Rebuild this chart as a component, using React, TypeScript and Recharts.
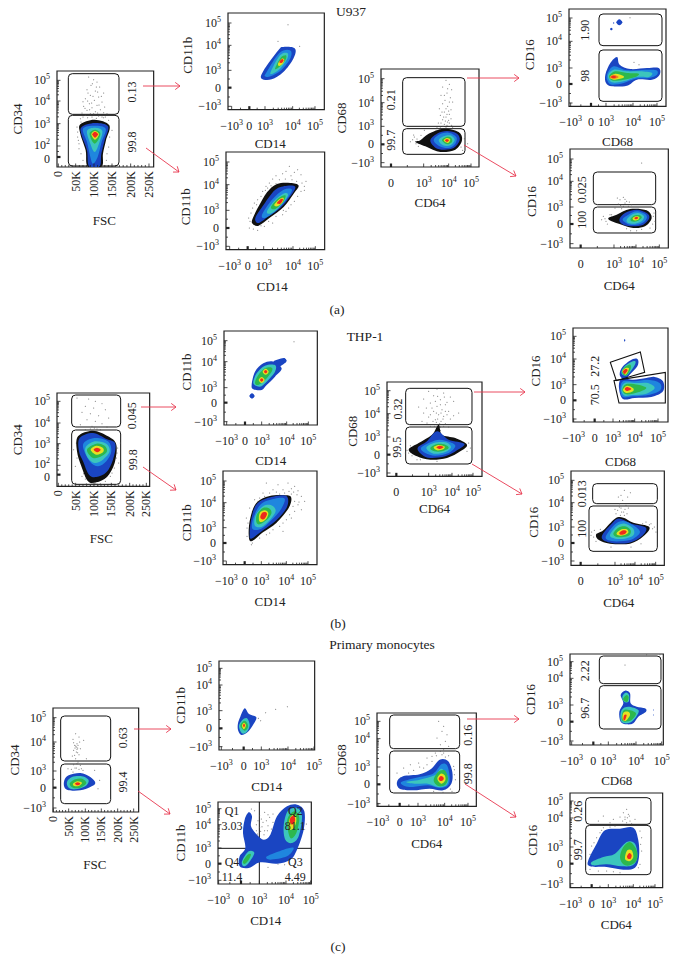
import React from 'react';
import { ScatterChart, Scatter, XAxis, YAxis, ReferenceArea, ReferenceLine } from 'recharts';

// Axis tick labels
const logX = ['−10^3', '0', '10^3', '10^4', '10^5'];
const logY = ['10^5', '10^4', '10^3', '0', '−10^3'];
const posX = ['0', '10^3', '10^4', '10^5'];
const fscX = ['0', '50K', '100K', '150K', '200K', '250K'];
const cd34Y = ['10^5', '10^4', '10^3', '10^2', '0'];

const COLORS: Record<string, string> = {
  k: '#101010', n: '#1a45c2', b: '#1f86de', c: '#3cc6bc', g: '#2db84d', y: '#e6e022', o: '#f08020', r: '#ee2a1c',
};

// All values are display channels of each plot's scale.
// U937
const a1Blobs: [string, number[]][] = [
  ['k', [113,142,157,125,147,80,138,40,134,2,92,2,86,50,70,100,70,128]],
  ['n', [113,132,153,122,143,80,133,40,128,2,96,2,90,50,74,95,74,120]],
  ['b', [113,124,146,115,134,75,122,30,108,10,100,30,90,75,78,115]],
  ['c', [113,118,136,108,126,70,113,45,100,70,90,108]],
  ['g', [114,112,130,102,123,80,113,70,104,80,98,102]],
  ['y', [114,108,126,98,114,82,103,98]],
  ['r', [114,106,123,98,114,88,106,98]],
];
const a1Dots = [95,270,110,262,120,255,102,245,128,240,90,232,115,228,140,222,100,215,125,210,85,205,112,200,135,195,97,190,120,185,80,182,105,178,130,172,90,170,115,166,75,162,140,163,60,120,62,90,66,70,72,40,78,20,150,160,165,110,155,60,148,20,85,155,125,153,100,160,70,145,155,140,
  106,250,118,240,93,222,108,212,122,225,133,212,78,196,92,198,104,192,126,186,143,180,84,176,98,172,110,160,122,162,135,150,145,150,72,135,62,105,66,55,150,40,158,90,78,150,92,148,105,150,118,146,140,148,64,80];
const a2Blobs: [string, number[]][] = [
  ['n', [106,116,151,178,166,188,201,183,196,153,166,113,131,91,101,93]],
  ['b', [116,113,154,170,186,178,188,156,161,120,128,100,111,100]],
  ['c', [128,113,156,163,178,170,178,153,156,123,134,108]],
  ['g', [141,123,158,156,174,163,172,148,154,128]],
  ['y', [150,138,161,153,169,150,164,138,154,131]],
  ['r', [154,143,162,152,167,148,161,140]],
];
const a2Dots = [180,255,150,205,215,190];
const a3Blobs: [string, number[]][] = [
  ['k', [83,100,98,130,123,172,153,197,193,200,218,192,203,168,173,128,133,97,98,72,78,80]],
  ['n', [88,95,113,135,148,180,183,192,208,188,193,160,163,125,128,100,98,80]],
  ['b', [108,105,138,150,173,180,198,180,181,150,148,115,118,95]],
  ['c', [123,115,148,150,178,170,185,160,158,125,133,108]],
  ['g', [135,128,158,155,178,163,173,145,148,122]],
  ['y', [145,135,161,152,173,155,168,140,153,130]],
  ['r', [153,140,165,152,171,150,163,138]],
];
const a3Dots = [190,250,205,232,225,225,215,240,170,228,150,222,130,200,110,175,95,150,80,125,68,95,70,65,95,58,115,70,140,80,170,105,195,135,215,160,235,190,180,235,195,222,120,190,85,140,240,205,
  140,212,160,210,178,212,198,210,212,205,228,200,135,192,150,198,118,178,125,185,105,160,92,135,75,110,72,85,82,62,105,72,128,85,150,100,180,115,205,145,225,175,235,178,188,125,172,118];
const a4Blobs: [string, number[]][] = [
  ['k', [118,80,143,100,188,115,233,105,243,80,223,52,178,45,138,60,103,75]],
  ['n', [148,80,168,100,198,108,228,100,236,80,218,57,188,52,163,58]],
  ['b', [158,80,176,98,203,103,226,90,223,70,203,57,176,62]],
  ['c', [173,80,188,92,208,95,221,82,208,65,186,65]],
  ['g', [183,80,196,90,210,88,213,75,198,68]],
  ['y', [188,80,198,87,208,82,200,72]],
  ['r', [192,80,198,84,204,80,198,75]],
];
const a4Dots = [195,260,205,248,185,240,212,232,198,222,180,215,208,208,192,200,215,195,185,190,200,182,175,175,210,172,190,165,205,158,178,155,195,150,210,145,185,142,200,135,172,132,190,128,208,122,178,120,195,118,215,118,100,90,105,70,95,82,112,62,120,95,130,110,250,85,260,70,245,50,
  200,235,190,215,205,195,195,175,203,168,183,165,198,158,188,150,203,140,193,138,180,132,198,125,186,122,205,132,168,118,212,125,88,76,98,96,108,84,240,60];
const a5Blobs: [string, number[]][] = [
  ['n', [151,261,160,252,151,243,142,252]],
  ['n', [127,236,131,232,127,228,123,232]],
  ['n', [134,252,136,250,134,248,132,250]],
  ['n', [109,95,124,130,144,148,152,125,184,112,234,115,269,115,272,95,249,80,204,80,174,62,129,60,111,70]],
  ['b', [114,95,134,120,174,108,229,110,262,108,264,95,239,85,199,83,164,70,129,65,116,75]],
  ['c', [117,92,134,110,174,105,214,105,249,100,239,88,204,88,164,75,129,72]],
  ['g', [120,90,139,105,174,100,209,98,199,88,164,80,132,77]],
  ['y', [122,88,139,98,162,92,162,85,134,80]],
  ['o', [122,88,134,95,149,88,134,82]],
  ['r', [125,88,134,92,142,88,134,85]],
];
const a5Dots = [183,266,210,125,195,132];
const a6Blobs: [string, number[]][] = [
  ['k', [115,90,140,100,180,117,230,113,245,90,225,65,190,60,155,70,125,80]],
  ['n', [148,85,165,105,200,115,230,105,238,90,220,70,190,65,160,70]],
  ['b', [158,85,175,100,200,110,228,100,228,85,210,72,180,70]],
  ['c', [170,85,185,100,205,105,222,95,215,80,195,73,175,75]],
  ['g', [182,88,195,98,210,98,215,90,200,80,185,80]],
  ['y', [188,90,198,95,208,93,205,85,192,83]],
  ['r', [193,90,200,94,205,90,198,86]],
];
const a6Dots = [150,145,160,152,170,140,145,132,175,125,135,120,155,118,185,130,215,255,100,95,108,80,95,85,250,95,255,80,240,60,170,58,200,52,125,100,165,135,
  142,150,152,128,165,146,160,125,178,138,112,72,120,100,105,88,248,72,252,105,182,52,215,56];

// THP-1
const b1Blobs: [string, number[]][] = [
  ['k', [63,150,108,167,153,150,178,125,173,70,150,28,118,12,93,15,73,60,60,105]],
  ['n', [68,145,108,160,148,142,175,128,168,80,148,42,118,28,96,35,78,75,66,105]],
  ['b', [78,125,113,145,153,135,163,105,148,75,123,60,98,75]],
  ['c', [85,115,113,135,148,128,158,105,138,80,113,70,93,85]],
  ['g', [90,110,118,128,143,122,150,105,133,90,108,85]],
  ['y', [101,110,118,122,138,115,138,102,118,95]],
  ['r', [110,110,120,116,131,110,121,102]],
];
const b1Dots = [60,265,95,262,115,255,135,248,85,240,110,235,145,230,75,222,100,218,125,212,155,205,90,200,115,195,135,188,70,185,105,180,150,178,120,172,85,170,180,100,185,70,165,40,55,60,58,130,100,3,130,8,145,15,75,30,
  100,6,110,4,120,7,125,3,105,9,115,10,135,5,88,8,85,22,80,38,160,30,172,55,178,85,182,115,60,85,62,145,50,110,100,172,112,175,130,170,190,130];
const b2Blobs: [string, number[]][] = [
  ['n', [84,95,92,87,84,79,76,87]],
  ['n', [180,201,188,193,180,185,172,193]],
  ['n', [148,190,178,200,186,190,163,175]],
  ['n', [83,120,93,160,118,185,148,190,173,170,153,145,128,120,113,105,88,107]],
  ['c', [88,125,98,155,123,178,153,180,153,160,128,130,108,115]],
  ['g', [93,127,103,150,123,170,143,172,143,160,123,135,103,120]],
  ['y', [125,169,134,160,125,151,116,160]],
  ['y', [113,144,122,135,113,126,104,135]],
  ['r', [125,165,130,160,125,155,120,160]],
  ['r', [113,140,118,135,113,130,108,135]],
];
const b2Dots = [210,250];
const b3Blobs: [string, number[]][] = [
  ['k', [77,93,82,140,100,185,140,206,190,208,205,200,197,170,160,125,120,97,85,70]],
  ['n', [80,93,85,138,102,183,145,203,190,206,192,173,160,133,120,103,85,78]],
  ['b', [88,108,92,143,115,183,155,198,185,198,175,168,145,133,115,108]],
  ['c', [95,118,98,148,120,175,145,178,158,161,140,133,115,113]],
  ['g', [100,128,102,151,120,170,140,168,145,153,130,133,110,121]],
  ['y', [108,133,110,155,125,163,136,155,130,138,115,128]],
  ['r', [112,141,117,155,127,158,132,151,123,136]],
];
const b3Dots = [130,245,165,240,195,245,215,235,150,225,180,225,225,222,235,205,120,215,205,228,170,212,110,200,225,180,215,160,235,165,190,135,205,140,170,115,140,95,110,80,85,60,72,110,70,140,80,170,95,195,180,100,245,190,
  185,215,198,220,212,218,222,210,205,212,160,218,140,215,125,205,105,190,88,160,75,125,72,85,88,65,215,190,228,188,210,175,200,150,180,125,150,105,130,90];
const b4Blobs: [string, number[]][] = [
  ['k', [65,80,95,100,135,125,155,155,165,125,205,115,240,95,220,75,180,55,130,50,90,60]],
  ['n', [92,85,120,105,150,135,185,110,232,98,210,78,175,60,130,55,105,65]],
  ['b', [102,85,130,102,158,110,190,102,205,90,185,70,145,62,115,70]],
  ['c', [118,85,140,100,175,102,192,88,175,73,140,68]],
  ['g', [130,85,150,97,175,95,185,85,165,75,142,75]],
  ['y', [140,87,155,94,172,90,170,82,150,78]],
  ['r', [148,87,158,92,170,88,158,82]],
];
const b4Dots = [150,262,125,255,170,250,140,242,190,238,110,232,160,230,200,225,130,220,175,215,150,210,95,208,165,200,185,195,140,195,215,190,155,185,170,180,125,178,190,172,145,170,162,165,105,165,175,158,150,155,160,148,130,150,185,148,150,140,60,78,70,92,245,100,250,85,75,62,150,45,100,50,
  152,240,145,225,118,205,172,238,180,222,160,215,135,205,175,195,148,190,162,190,130,185,180,185,152,172,168,172,138,165,120,160,158,158,170,150,148,162,142,150,160,138,200,182,110,190,55,70,65,70,240,75,90,50];
const b5Blobs: [string, number[]][] = [
  ['n', [155,249,157,245,155,241,153,245]],
  ['n', [140,142,150,167,180,189,195,187,193,167,170,142,155,127]],
  ['c', [145,147,155,167,180,182,188,179,180,162,160,139]],
  ['g', [147,149,155,164,172,172,172,157,158,139]],
  ['y', [148,152,158,162,168,160,158,142]],
  ['r', [150,152,158,159,164,155,155,144]],
  ['n', [138,102,145,129,180,127,220,132,245,135,270,122,270,92,235,75,185,72,150,69]],
  ['b', [142,97,150,122,185,122,225,127,260,117,262,95,230,82,180,77,150,75]],
  ['c', [145,97,155,117,190,117,225,117,245,102,220,85,180,81,155,79]],
  ['g', [148,97,160,114,195,112,220,102,195,89,160,83]],
  ['y', [150,97,162,109,180,102,180,92,160,87]],
  ['r', [155,99,162,105,175,99,162,93]],
];
const b5Gates: number[][] = [
  [112,179,202,210,215,149,130,124],
  [123,124,277,149,277,57,138,57],
];
const b6Blobs: [string, number[]][] = [
  ['k', [75,92,97,105,132,140,157,143,187,128,235,115,217,87,177,65,117,65,85,75]],
  ['n', [92,85,127,130,147,140,182,125,225,113,212,87,175,68,122,67]],
  ['b', [104,85,132,123,157,133,187,120,207,100,187,80,157,73,122,73]],
  ['c', [117,90,137,117,162,125,187,110,187,90,162,80,132,80]],
  ['g', [127,95,142,113,162,117,179,105,175,90,157,85,137,85]],
  ['y', [137,97,152,108,167,108,172,98,157,90,142,90]],
  ['r', [145,98,157,105,167,102,162,94,149,92]],
];
const b6Dots = [160,225,150,210,170,205,155,195,145,185,165,180,150,172,140,165,158,160,135,155,168,155,148,150,60,90,70,105,75,72,250,115,255,100,240,125,225,130,210,65,120,55,180,55,
  142,205,178,218,162,168,152,160,172,172,145,175,132,168,160,150,62,100,68,85,80,88,88,108,245,110,235,122,215,125];
const c1Blobs: [string, number[]][] = [
  ['n', [34,95,47,110,82,117,112,105,127,87,112,75,82,65,47,65,34,75]],
  ['c', [42,90,57,105,87,107,107,95,97,77,67,68,47,73]],
  ['g', [50,85,67,98,87,100,100,87,82,73,60,73]],
  ['y', [60,85,74,92,87,87,77,78,64,78]],
  ['r', [66,85,74,89,82,85,74,80]],
];
const c1Dots = [68,235,78,225,60,218,72,205,65,200,70,195,74,192,82,190,62,185,70,180,78,172,58,168,68,160,75,150,62,142,82,140,70,132,55,128,90,125,125,125,140,95,135,70,92,215,45,130,100,160,
  68,198,72,188,66,192,75,200,80,210,62,208,74,178,65,170,72,145,66,132,78,128,60,120,85,130];
const c2Blobs: [string, number[]][] = [
  ['n', [57,80,64,100,77,125,90,108,112,98,102,75,87,55,67,45,57,60]],
  ['c', [60,72,70,90,84,95,92,75,84,55,69,50]],
  ['g', [64,72,74,87,84,82,87,68,77,58]],
  ['y', [69,73,75,82,81,74,75,62]],
  ['r', [72,74,75,79,78,74,75,68]],
];
const c2Dots = [140,112,170,122,205,130,118,95,125,88];
const c3Blobs: [string, number[]][] = [
  ['n', [92,215,102,203,99,173,117,148,137,133,157,148,177,203,207,233,237,238,259,218,257,163,237,103,217,73,177,61,127,65,92,48,65,53,65,83,82,108,75,153,80,193]],
  ['b', [147,83,197,103,227,108,207,83,157,73]],
  ['c', [197,173,209,218,237,228,252,203,242,143,222,123,202,133]],
  ['g', [207,183,215,208,232,218,244,198,235,153,217,138]],
  ['y', [212,183,219,203,232,208,235,188,227,168,215,163]],
  ['r', [215,188,219,201,229,203,231,188,222,178]],
  ['c', [72,68,92,98,109,93,92,63,77,53]],
  ['g', [75,68,89,88,99,88,89,68,79,60]],
];
const c3Dots = [110,220,125,205,140,215,155,200,120,190,135,185,150,175,125,170,140,160,115,160,160,165,165,185,105,135,100,225,180,60,200,58,150,50,230,60,265,180,
  130,195,145,190,115,178,132,172,148,160,118,150,128,158,138,148,150,208,165,210];
const c4Blobs: [string, number[]][] = [
  ['n', [60,73,78,90,128,96,163,113,188,140,213,136,226,103,223,68,198,48,158,53,108,48,68,53]],
  ['b', [73,73,118,86,168,98,193,126,210,123,218,88,213,63,188,55,153,63,108,58,83,61]],
  ['c', [88,73,128,80,173,93,193,113,213,88,208,63,183,58,153,68,113,68]],
  ['g', [170,78,183,103,203,108,213,83,203,63,183,61]],
  ['y', [181,83,191,98,203,93,205,78,193,68]],
  ['r', [185,83,192,91,200,86,198,78,190,76]],
];
const c4Dots = [185,255,200,240,195,225,210,215,180,205,205,195,190,185,215,180,200,170,175,160,195,155,165,150,150,145,205,148,125,130,100,125,80,115,140,115,60,100,230,120,235,80,225,45,
  190,165,178,152,165,135,150,125,128,118,110,108,95,100,70,85,200,160,215,152,232,110,232,95,220,52,198,42,170,45];
const c5Blobs: [string, number[]][] = [
  ['n', [152,150,165,163,180,155,182,125,200,115,225,110,228,100,205,85,190,65,170,62,152,70,148,100,160,125]],
  ['c', [157,145,167,157,177,150,176,130,162,130]],
  ['c', [152,75,155,105,175,115,205,105,200,87,185,70,165,65]],
  ['g', [160,140,170,150,176,143,172,130,162,132]],
  ['g', [155,77,160,103,178,105,198,95,185,75,165,70]],
  ['y', [158,77,160,97,175,100,180,90,168,73]],
  ['r', [160,77,163,90,170,90,165,75]],
  ['n', [250,107,251,105,250,103,249,105]],
  ['n', [250,92,251,90,250,88,249,90]],
];
const c5Dots = [165,240,230,271,270,271];
const c6Blobs: [string, number[]][] = [
  ['n', [55,82,80,132,105,172,150,177,190,180,205,142,207,92,195,60,160,54,110,62,60,64]],
  ['c', [65,77,100,92,135,102,170,137,195,132,202,92,188,67,155,64,110,70,70,67]],
  ['g', [150,92,160,122,180,137,200,112,200,82,180,67,160,70]],
  ['y', [165,92,172,112,185,112,190,92,180,80,168,82]],
  ['r', [171,94,178,104,185,97,182,87,174,87]],
];
const c6Dots = [170,235,160,225,175,220,150,212,165,205,180,200,130,205,100,215,85,200,120,195,195,205,65,125,70,110,80,150,90,165,215,150,215,110,210,70,150,45,110,50,60,55,100,180,60,100,
  165,212,172,210,158,200,170,195,178,215,185,192,135,185,120,182,95,172,72,135,210,170,212,130,205,60,130,48,85,50];

// Percentages written beside the gates: [x, y, text]
const a1Pct: [number, number, string][] = [[224,225,'0.13'],[224,75,'99.8']];
const a4Pct: [number, number, string][] = [[31,202,'0.21'],[31,80,'99.7']];
const a5Pct: [number, number, string][] = [[47,228,'1.90'],[47,92,'98']];
const a6Pct: [number, number, string][] = [[37,175,'0.025'],[37,85,'100']];
const b1Pct: [number, number, string][] = [[226,212,'0.045'],[228,80,'99.8']];
const b4Pct: [number, number, string][] = [[33,202,'0.32'],[30,87,'99.5']];
const b5Pct: [number, number, string][] = [[67,167,'27.2'],[67,82,'70.5']];
const b6Pct: [number, number, string][] = [[34,215,'0.013'],[34,110,'100']];
const c1Pct: [number, number, string][] = [[210,223,'0.63'],[210,90,'99.4']];
const c4Pct: [number, number, string][] = [[273,213,'0.16'],[273,98,'99.8']];
const c5Pct: [number, number, string][] = [[45,223,'2.22'],[45,110,'96.7']];
const c6Pct: [number, number, string][] = [[25,229,'0.26'],[25,114,'99.7']];
const c3Quad: [number, number, string][] = [[42,218,'Q1'],[42,175,'3.03'],[232,218,'Q2'],[232,175,'81.1'],[42,65,'Q4'],[42,21,'11.4'],[232,65,'Q3'],[232,21,'4.49']];

const FONT = '"Liberation Serif", "Times New Roman", serif';
const INK = '#222';

const pairs = (f: number[]) => {
  const out: { x: number; y: number }[] = [];
  for (let i = 0; i + 1 < f.length; i += 2) out.push({ x: f[i], y: f[i + 1] });
  return out;
};

const NoDot = () => <g />;
const SmallDot = (p: any) => <circle cx={p.cx} cy={p.cy} r={0.5} fill="#555" />;

const closedSmooth = (fill: string) => (p: any) => {
  const pts = p.points;
  const n = pts.length;
  let d = `M${pts[0].x},${pts[0].y}`;
  for (let i = 0; i < n; i++) {
    const p0 = pts[(i - 1 + n) % n], p1 = pts[i], p2 = pts[(i + 1) % n], p3 = pts[(i + 2) % n];
    d += `C${p1.x + (p2.x - p0.x) / 6},${p1.y + (p2.y - p0.y) / 6} ${p2.x - (p3.x - p1.x) / 6},${p2.y - (p3.y - p1.y) / 6} ${p2.x},${p2.y}`;
  }
  return <path d={d + 'Z'} fill={fill} stroke="none" />;
};

const closedStraight = (p: any) => (
  <path d={'M' + p.points.map((q: any) => `${q.x},${q.y}`).join('L') + 'Z'} fill="none" stroke="#111" strokeWidth={1.1} />
);

const Rich = ({ label, ...rest }: any) => {
  const parts = String(label).split('^');
  return (
    <text {...rest} fontFamily={FONT} fill={INK}>
      {parts[0]}
      {parts[1] ? <tspan dy={-5} fontSize={8}>{parts[1]}</tspan> : null}
    </text>
  );
};

const expand = (ticks: number[], labels: string[], linear: boolean) => {
  const minors: number[] = [];
  for (let i = 0; i + 1 < ticks.length; i++) {
    const a = labels[i], b = labels[i + 1];
    if (linear) {
      for (let k = 1; k < 5; k++) minors.push(ticks[i] + ((ticks[i + 1] - ticks[i]) * k) / 5);
    } else if (a.startsWith('10^') && b.startsWith('10^')) {
      const lo = Math.min(ticks[i], ticks[i + 1]);
      const span = Math.abs(ticks[i + 1] - ticks[i]);
      for (let k = 2; k < 10; k++) minors.push(lo + Math.log10(k) * span);
    } else {
      minors.push((ticks[i] + ticks[i + 1]) / 2);
    }
  }
  return [...ticks, ...minors];
};

const Panel = ({ cfg }: any) => {
  const { ox, oy, l, t, r, b, xTicks, xLabels, yTicks, yLabels, xTitle, yTitle, xT, yT, blobs, dots, gates, poly, pct, quad, qx, qy, fsc } = cfg;
  const W = r - l, H = b - t;
  const left = ox + l / 3 - 50, top = oy + t / 3 - 10;
  const xMap = new Map<number, string>(xTicks.map((v: number, i: number) => [v, xLabels[i]]));
  const yMap = new Map<number, string>(yTicks.map((v: number, i: number) => [v, yLabels[i]]));
  const xTick = (p: any) => {
    const v = p.payload.value, lab = xMap.get(v);
    const heavy = lab === '0' && !fsc;
    return (
      <g>
        <line x1={p.x} x2={p.x} y1={p.y} y2={p.y - (lab ? 3.5 : 2)} stroke={INK} strokeWidth={heavy ? 2.2 : 0.8} />
        {lab ? (fsc ? (
          <Rich label={lab} x={p.x} y={p.y + 4} dy={4} fontSize={12} textAnchor="end" transform={`rotate(-90 ${p.x} ${p.y + 4})`} />
        ) : (
          <Rich label={lab} x={p.x} y={p.y + 20} fontSize={12} textAnchor="middle" />
        )) : null}
      </g>
    );
  };
  const yTick = (p: any) => {
    const v = p.payload.value, lab = yMap.get(v);
    const shift = lab === '10^2' ? -1 : lab === '0' && yLabels.includes('10^2') ? 2 : 0;
    return (
      <g>
        <line x1={p.x} x2={p.x + (lab ? 3.5 : 2)} y1={p.y} y2={p.y} stroke={INK} strokeWidth={lab === '0' ? 2.2 : 0.8} />
        {lab ? <Rich label={lab} x={p.x - 7} y={p.y + 4 + shift} fontSize={12} textAnchor="end" /> : null}
      </g>
    );
  };
  const rotText = (p: any) => (
    <text x={p.cx} y={p.cy} dy={4} fontSize={12} fontFamily={FONT} fill={INK} textAnchor="middle" transform={`rotate(-90 ${p.cx} ${p.cy})`}>
      {p.payload.text}
    </text>
  );
  const flatText = (p: any) => (
    <text x={p.cx} y={p.cy} dy={4} fontSize={12} fontFamily={FONT} fill={INK} textAnchor="middle">
      {p.payload.text}
    </text>
  );
  return (
    <div style={{ position: 'absolute', left, top }}>
      <ScatterChart width={W / 3 + 70} height={H / 3 + 70} margin={{ top: 10, right: 20, left: 0, bottom: 0 }}>
        <XAxis
          type="number" dataKey="x" domain={[0, W]} allowDataOverflow height={60} interval={0}
          ticks={expand([...xTicks], xLabels, !!fsc)} tick={xTick} tickLine={false} axisLine={false} tickSize={0} tickMargin={0}
          label={{ value: xTitle, position: 'center', dx: xT[0], dy: xT[1] - 30, fontSize: 13, fontFamily: FONT, fill: INK }}
        />
        <YAxis
          type="number" dataKey="y" domain={[0, H]} allowDataOverflow width={50} interval={0}
          ticks={expand([...yTicks], yLabels, false)} tick={yTick} tickLine={false} axisLine={false} tickSize={0} tickMargin={0}
          label={{ value: yTitle, angle: -90, position: 'center', dx: 25 - yT[0], dy: yT[1], fontSize: 13, fontFamily: FONT, fill: INK }}
        />
        {dots ? <Scatter data={pairs(dots)} shape={SmallDot} isAnimationActive={false} /> : null}
        {blobs.map(([lv, f]: [string, number[]], i: number) => (
          <Scatter key={i} data={pairs(f)} line={closedSmooth(COLORS[lv])} lineType="joint" shape={NoDot} isAnimationActive={false} />
        ))}
        <ReferenceArea x1={0} x2={W} y1={0} y2={H} fill="none" stroke={INK} strokeWidth={1.2} ifOverflow="visible" />
        {(gates || []).map((g: number[], i: number) => (
          <ReferenceArea key={i} x1={g[0]} x2={g[1]} y1={g[2]} y2={g[3]} fill="none" stroke="#111" strokeWidth={1} radius={4} ifOverflow="visible" />
        ))}
        {(poly || []).map((f: number[], i: number) => (
          <Scatter key={'p' + i} data={pairs(f)} line={closedStraight} lineType="joint" shape={NoDot} isAnimationActive={false} />
        ))}
        {qx !== undefined ? <ReferenceLine x={qx} stroke="#111" strokeWidth={1} /> : null}
        {qy !== undefined ? <ReferenceLine y={qy} stroke="#111" strokeWidth={1} /> : null}
        {pct ? <Scatter data={pct.map((e: any) => ({ x: e[0], y: e[1], text: e[2] }))} shape={rotText} isAnimationActive={false} /> : null}
        {quad ? <Scatter data={quad.map((e: any) => ({ x: e[0], y: e[1], text: e[2] }))} shape={flatText} isAnimationActive={false} /> : null}
      </ScatterChart>
    </div>
  );
};

const panels = [
  { ox: 0, oy: 0, l: 172, t: 212, r: 462, b: 500, fsc: true, xTicks: [4,56,111,165,221,276], xLabels: fscX, yTicks: [260,198,130,63,30], yLabels: cd34Y, xTitle: 'FSC', yTitle: 'CD34', xT: [-1,53], yT: [40,0], blobs: a1Blobs, dots: a1Dots, gates: [[34,186,158,280],[34,186,3,155]], pct: a1Pct },
  { ox: 0, oy: 0, l: 684, t: 38, r: 973, b: 328, xTicks: [11,64,111,194,261], xLabels: logX, yTicks: [260,193,118,66,10], yLabels: logY, xTitle: 'CD14', yTitle: 'CD11b', xT: [-6,34], yT: [41,-6], blobs: a2Blobs, dots: a2Dots },
  { ox: 0, oy: 0, l: 677, t: 457, r: 973, b: 750, xTicks: [11,65,113,201,268], xLabels: logX, yTicks: [263,195,118,65,10], yLabels: logY, xTitle: 'CD14', yTitle: 'CD11b', xT: [-3,37], yT: [41,6], blobs: a3Blobs, dots: a3Dots },
  { ox: 340, oy: 0, l: 122, t: 206, r: 416, b: 500, xTicks: [30,128,203,270], xLabels: posX, yTicks: [265,193,122,68,13], yLabels: logY, xTitle: 'CD64', yTitle: 'CD68', xT: [0,35], yT: [40,0], blobs: a4Blobs, dots: a4Dots, gates: [[65,252,122,268],[65,252,38,115]], pct: a4Pct },
  { ox: 340, oy: 0, l: 686, t: 28, r: 977, b: 320, xTicks: [5,66,111,192,264], xLabels: logX, yTicks: [265,195,115,67,10], yLabels: logY, xTitle: 'CD68', yTitle: 'CD16', xT: [0,35], yT: [40,-3], blobs: a5Blobs, dots: a5Dots, gates: [[90,279,182,277],[90,279,15,169]], pct: a5Pct },
  { ox: 340, oy: 0, l: 690, t: 448, r: 985, b: 745, xTicks: [32,132,198,268], xLabels: posX, yTicks: [267,200,123,72,13], yLabels: logY, xTitle: 'CD64', yTitle: 'CD16', xT: [0,37], yT: [39,3], blobs: a6Blobs, dots: a6Dots, gates: [[70,257,130,228],[70,257,45,123]], pct: a6Pct },

  { ox: 0, oy: 320, l: 172, t: 220, r: 450, b: 500, fsc: true, xTicks: [4,56,111,163,218,268], xLabels: fscX, yTicks: [255,190,128,63,35], yLabels: cd34Y, xTitle: 'FSC', yTitle: 'CD34', xT: [-2,52], yT: [40,0], blobs: b1Blobs, dots: b1Dots, gates: [[44,191,178,274],[44,191,6,169]], pct: b1Pct },
  { ox: 0, oy: 320, l: 672, t: 33, r: 952, b: 315, xTicks: [8,63,113,188,253], xLabels: logX, yTicks: [253,190,112,67,10], yLabels: logY, xTitle: 'CD14', yTitle: 'CD11b', xT: [0,35], yT: [38,-6], blobs: b2Blobs, dots: b2Dots },
  { ox: 0, oy: 320, l: 670, t: 452, r: 952, b: 733, xTicks: [10,65,115,190,255], xLabels: logX, yTicks: [251,186,111,65,11], yLabels: logY, xTitle: 'CD14', yTitle: 'CD11b', xT: [0,37], yT: [37,5], blobs: b3Blobs, dots: b3Dots },
  { ox: 340, oy: 320, l: 140, t: 187, r: 425, b: 470, xTicks: [28,125,195,258], xLabels: posX, yTicks: [257,188,118,65,10], yLabels: logY, xTitle: 'CD64', yTitle: 'CD68', xT: [0,32], yT: [35,2], blobs: b4Blobs, dots: b4Dots, gates: [[56,255,155,264],[56,255,37,148]], pct: b4Pct },
  { ox: 340, oy: 320, l: 700, t: 25, r: 985, b: 307, xTicks: [2,65,120,185,255], xLabels: logX, yTicks: [257,189,112,65,9], yLabels: logY, xTitle: 'CD68', yTitle: 'CD16', xT: [0,39], yT: [38,-4], blobs: b5Blobs, poly: b5Gates, pct: b5Pct },
  { ox: 340, oy: 320, l: 693, t: 452, r: 973, b: 735, xTicks: [29,132,192,254], xLabels: posX, yTicks: [255,188,115,67,13], yLabels: logY, xTitle: 'CD64', yTitle: 'CD16', xT: [1,37], yT: [38,4], blobs: b6Blobs, dots: b6Dots, gates: [[65,259,185,245],[54,259,42,178]], pct: b6Pct },

  { ox: 0, oy: 640, l: 158, t: 203, r: 415, b: 515, fsc: true, xTicks: [1,47,97,145,194,242], xLabels: fscX, yTicks: [283,210,123,73,12], yLabels: logY, xTitle: 'FSC', yTitle: 'CD34', xT: [-1,52], yT: [39,0], blobs: c1Blobs, dots: c1Dots, gates: [[23,173,153,288],[23,173,25,144]], pct: c1Pct },
  { ox: 0, oy: 640, l: 658, t: 63, r: 945, b: 330, xTicks: [7,74,127,207,285], xLabels: logX, yTicks: [245,195,118,65,10], yLabels: logY, xTitle: 'CD14', yTitle: 'CD11b', xT: [0,36], yT: [39,0], blobs: c2Blobs, dots: c2Dots },
  { ox: 0, oy: 640, l: 653, t: 487, r: 933, b: 733, xTicks: [2,69,124,204,278], xLabels: logX, yTicks: [226,178,108,61,11], yLabels: logY, xTitle: 'CD14', yTitle: 'CD11b', xT: [1,36], yT: [38,0], blobs: c3Blobs, dots: c3Dots, qx: 124, qy: 107, quad: c3Quad },
  { ox: 340, oy: 640, l: 112, t: 218, r: 410, b: 498, xTicks: [3,68,123,203,273], xLabels: logX, yTicks: [255,203,118,66,8], yLabels: logY, xTitle: 'CD64', yTitle: 'CD68', xT: [0,37], yT: [36,0], blobs: c4Blobs, dots: c4Dots, gates: [[38,248,173,274],[38,248,40,166]], pct: c4Pct },
  { ox: 340, oy: 640, l: 690, t: 42, r: 970, b: 315, xTicks: [5,70,115,198,275], xLabels: logX, yTicks: [250,200,120,70,12], yLabels: logY, xTitle: 'CD68', yTitle: 'CD16', xT: [0,35], yT: [40,0], blobs: c5Blobs, dots: c5Dots, gates: [[88,273,184,267],[88,273,48,178]], pct: c5Pct },
  { ox: 340, oy: 640, l: 690, t: 458, r: 968, b: 742, xTicks: [2,65,115,190,255], xLabels: logX, yTicks: [260,209,122,72,12], yLabels: logY, xTitle: 'CD64', yTitle: 'CD16', xT: [0,37], yT: [38,0], blobs: c6Blobs, dots: c6Dots, gates: [[47,243,190,270],[47,243,39,187]], pct: c6Pct },
];

const arrows = [
  [143,86,180,86],[146,148,179,172],[467,78,519,78],[464,145,516,176],
  [141,407,176,407],[143,467,176,490],[474,392,525,392],[472,464,522,494],
  [134,729,171,729],[138,791,170,814],[467,719,519,719],[465,784,516,817],
];
const captions: [number, number, string][] = [
  [351,16,'U937'],[337,314,'(a)'],[365,341,'THP-1'],[338,628,'(b)'],[382,649,'Primary monocytes'],[338,951,'(c)'],
];

export default function App() {
  return (
    <div style={{ position: 'absolute', left: 0, top: 0, width: 680, height: 973, background: '#fff', overflow: 'hidden' }}>
      {panels.map((c, i) => <Panel key={i} cfg={c} />)}
      <svg width={680} height={973} style={{ position: 'absolute', left: 0, top: 0, pointerEvents: 'none' }}>
        {arrows.map(([x1, y1, x2, y2], i) => {
          const ang = Math.atan2(y2 - y1, x2 - x1);
          const h = 6;
          const a1 = ang + 2.5, a2 = ang - 2.5;
          return (
            <g key={i} stroke="#e8384f" strokeWidth={0.9} fill="none">
              <line x1={x1} y1={y1} x2={x2} y2={y2} />
              <polyline points={`${x2 + h * Math.cos(a1)},${y2 + h * Math.sin(a1)} ${x2},${y2} ${x2 + h * Math.cos(a2)},${y2 + h * Math.sin(a2)}`} />
            </g>
          );
        })}
        {captions.map(([x, y, t], i) => (
          <text key={i} x={x} y={y} fontSize={13.5} fontFamily={FONT} fill={INK} textAnchor="middle">{t}</text>
        ))}
      </svg>
    </div>
  );
}
